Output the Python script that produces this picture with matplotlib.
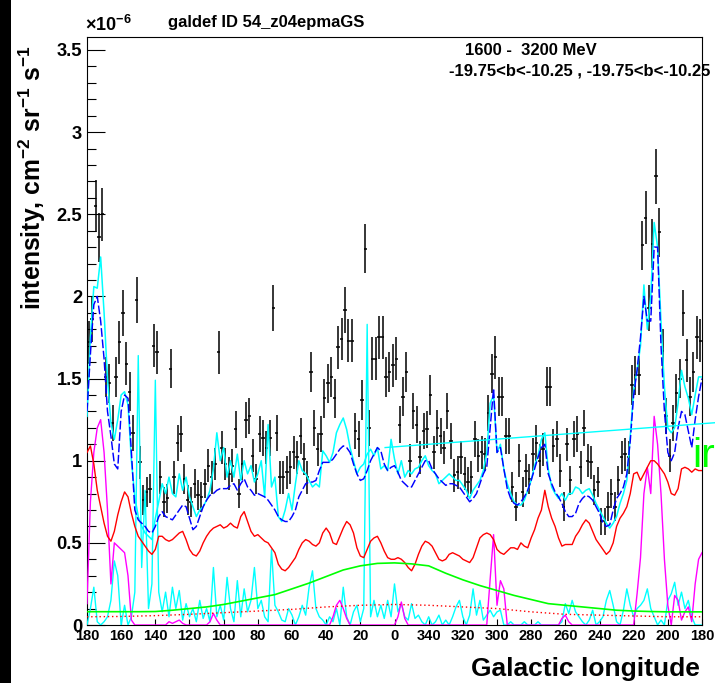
import numpy as np
import matplotlib
matplotlib.use('Agg')
import matplotlib.pyplot as plt
from matplotlib.patches import Rectangle
from matplotlib.ticker import MultipleLocator, FixedLocator, FixedFormatter, FuncFormatter

plt.rcParams['font.family'] = ['Liberation Sans', 'DejaVu Sans']
plt.rcParams['font.weight'] = 'bold'
plt.rcParams['mathtext.fontset'] = 'custom'
plt.rcParams['mathtext.rm'] = 'Liberation Sans:bold'
plt.rcParams['mathtext.it'] = 'Liberation Sans:bold'
plt.rcParams['mathtext.bf'] = 'Liberation Sans:bold'
plt.rcParams['mathtext.default'] = 'rm'

# ---------------- data (intensity in units of 1e-6 cm^-2 sr^-1 s^-1) ----------------
# longitude wrapped to [-180,180], plotted from +180 (left) to -180 (right)
bin_half_width = 1.0
data_lon = np.arange(179, -180, -2)
data_val = [
    1.72, 1.86, 2.55, 2.36, 2.50, 1.51, 1.47, 1.23, 1.51, 1.72,
    1.90, 1.59, 1.42, 1.17, 1.98, 0.99, 0.76, 0.81, 0.83, 1.70,
    1.66, 0.90, 0.75, 0.77, 1.56, 0.90, 1.11, 1.16, 0.89, 0.76,
    0.75, 0.86, 0.79, 0.78, 0.86, 0.97, 0.90, 0.98, 1.66, 1.08,
    0.98, 0.92, 0.97, 1.19, 0.80, 0.98, 1.25, 1.27, 1.03, 0.89,
    1.16, 1.14, 1.08, 1.14, 1.93, 1.17, 0.90, 0.90, 0.93, 0.96,
    1.05, 1.02, 1.15, 1.01, 0.90, 1.54, 1.20, 1.07, 1.16, 1.38,
    1.47, 1.51, 1.38, 1.69, 1.74, 1.92, 1.73, 1.73, 1.18, 1.13,
    1.37, 2.29, 1.20, 1.62, 1.62, 1.75, 1.75, 1.51, 1.54, 1.58,
    1.62, 1.22, 1.39, 1.54, 1.00, 1.30, 1.22, 1.02, 1.18, 1.19,
    1.40, 1.05, 1.20, 1.15, 1.08, 1.30, 1.12, 0.91, 0.93, 1.02,
    0.92, 0.87, 0.90, 1.13, 1.03, 1.05, 1.04, 1.29, 1.53, 1.63,
    1.39, 1.39, 1.15, 1.15, 0.84, 0.72, 1.00, 0.81, 0.94, 0.89,
    1.04, 1.11, 1.00, 1.07, 1.45, 1.45, 1.09, 1.13, 0.94, 0.72,
    1.10, 0.88, 1.13, 1.16, 0.96, 1.20, 1.00, 0.99, 0.82, 0.87,
    0.63, 0.63, 0.72, 0.80, 0.72, 0.88, 1.02, 1.04, 1.02, 1.46,
    1.52, 1.52, 2.31, 2.48, 1.93, 2.32, 2.73, 2.39, 1.67, 1.27,
    1.03, 1.23, 1.41, 1.50, 1.90, 1.61, 1.39, 1.54, 1.75, 1.73,
]
data_err = [
    0.13, 0.14, 0.16, 0.15, 0.16, 0.12, 0.12, 0.11, 0.12, 0.13,
    0.14, 0.13, 0.12, 0.11, 0.14, 0.10, 0.09, 0.09, 0.09, 0.13,
    0.13, 0.10, 0.09, 0.09, 0.12, 0.10, 0.11, 0.11, 0.09, 0.09,
    0.09, 0.09, 0.09, 0.09, 0.09, 0.10, 0.10, 0.10, 0.13, 0.10,
    0.10, 0.10, 0.10, 0.11, 0.09, 0.10, 0.11, 0.11, 0.10, 0.09,
    0.11, 0.11, 0.10, 0.11, 0.14, 0.11, 0.10, 0.10, 0.10, 0.10,
    0.10, 0.10, 0.11, 0.10, 0.10, 0.12, 0.11, 0.10, 0.11, 0.12,
    0.12, 0.12, 0.12, 0.13, 0.13, 0.14, 0.13, 0.13, 0.11, 0.11,
    0.12, 0.15, 0.11, 0.13, 0.13, 0.13, 0.13, 0.12, 0.12, 0.13,
    0.13, 0.11, 0.12, 0.12, 0.10, 0.11, 0.11, 0.10, 0.11, 0.11,
    0.12, 0.10, 0.11, 0.11, 0.10, 0.11, 0.11, 0.10, 0.10, 0.10,
    0.10, 0.09, 0.10, 0.11, 0.10, 0.10, 0.10, 0.11, 0.12, 0.13,
    0.12, 0.12, 0.11, 0.11, 0.09, 0.09, 0.10, 0.09, 0.10, 0.09,
    0.10, 0.11, 0.10, 0.10, 0.12, 0.12, 0.10, 0.11, 0.10, 0.09,
    0.10, 0.09, 0.11, 0.11, 0.10, 0.11, 0.10, 0.10, 0.09, 0.09,
    0.08, 0.08, 0.09, 0.09, 0.09, 0.09, 0.10, 0.10, 0.10, 0.12,
    0.12, 0.12, 0.15, 0.16, 0.14, 0.15, 0.17, 0.15, 0.13, 0.11,
    0.10, 0.11, 0.12, 0.12, 0.14, 0.13, 0.12, 0.12, 0.13, 0.13,
]

# model curves on a 2-degree longitude grid (180 -> -180)
grid_lon = np.arange(180, -181, -2)
total_blue = [
    1.30, 1.65, 1.95, 2.00, 1.85, 1.62, 1.30, 1.15, 0.98, 0.95,
    1.30, 1.40, 1.38, 1.05, 0.70, 0.64, 0.62, 0.60, 0.57, 0.56,
    0.60, 0.66, 0.69, 0.66, 0.65, 0.64, 0.67, 0.70, 0.73, 0.72,
    0.65, 0.58, 0.60, 0.66, 0.72, 0.76, 0.79, 0.80, 0.82, 0.83,
    0.83, 0.83, 0.85, 0.86, 0.82, 0.86, 0.89, 0.84, 0.82, 0.79,
    0.80, 0.79, 0.78, 0.76, 0.73, 0.70, 0.66, 0.64, 0.63, 0.63,
    0.66, 0.70, 0.78, 0.82, 0.86, 0.87, 0.87, 0.88, 0.94, 0.99,
    0.99, 0.99, 1.01, 1.04, 1.07, 1.09, 1.08, 1.05, 0.98, 0.92,
    0.88, 0.89, 0.94, 1.00, 1.04, 1.08, 1.06, 0.98, 0.94, 0.96,
    0.97, 0.93, 0.88, 0.86, 0.84, 0.84, 0.88, 0.92, 0.96, 1.00,
    1.00, 0.95, 0.92, 0.89, 0.87, 0.85, 0.86, 0.86, 0.85, 0.84,
    0.81, 0.78, 0.75, 0.77, 0.80, 0.86, 0.92, 0.96, 1.20, 1.44,
    1.05, 1.08, 0.95, 0.83, 0.77, 0.74, 0.73, 0.75, 0.78, 0.82,
    0.88, 0.95, 1.02, 1.08, 1.10, 0.92, 0.86, 0.81, 0.78, 0.74,
    0.69, 0.66, 0.66, 0.68, 0.74, 0.77, 0.79, 0.78, 0.76, 0.72,
    0.68, 0.62, 0.60, 0.61, 0.70, 0.77, 0.80, 0.84, 0.92, 1.12,
    1.40, 1.55, 1.75, 2.00, 1.85, 1.85, 2.30, 2.30, 1.70, 1.30,
    1.05, 1.00, 1.05, 1.20, 1.30, 1.28, 1.18, 1.08, 1.25, 1.39,
    1.50,
]
total_cyan = [
    1.27, 1.75, 2.06, 2.05, 2.24, 1.90, 1.50, 1.23, 1.13, 1.25,
    1.40, 1.42, 1.34, 1.00, 0.78, 0.66, 0.60, 0.56, 0.54, 0.52,
    0.65, 0.75, 0.86, 0.80, 0.90, 0.80, 0.78, 0.92, 0.82, 0.90,
    0.78, 0.72, 0.66, 0.70, 0.72, 0.76, 0.82, 0.95, 1.17, 1.00,
    1.08, 0.90, 1.00, 0.90, 1.04, 0.88, 1.00, 0.92, 0.97, 0.87,
    0.92, 1.00, 0.78, 1.22, 0.84, 0.90, 0.66, 0.63, 0.70, 0.80,
    0.70, 0.86, 1.00, 0.94, 0.92, 0.88, 0.84, 0.86, 0.84, 1.06,
    1.03, 0.99, 1.05, 1.17, 1.22, 1.26, 1.19, 1.08, 1.00, 0.92,
    0.96, 0.98, 1.04, 1.07, 1.03, 1.08, 0.95, 0.97, 0.94, 1.13,
    1.01, 0.92, 1.00, 0.90, 0.94, 0.92, 0.95, 0.96, 1.00, 1.03,
    0.97, 0.94, 0.92, 0.86, 0.88, 0.90, 0.92, 0.90, 0.88, 0.88,
    0.85, 0.82, 0.77, 0.82, 0.85, 0.88, 0.94, 1.05, 1.35, 1.40,
    1.05, 1.10, 0.95, 0.86, 0.80, 0.75, 0.73, 0.73, 0.76, 0.82,
    0.88, 0.97, 1.03, 1.13, 1.17, 0.95, 0.84, 0.80, 0.77, 0.80,
    0.76, 0.80, 0.80, 0.84, 0.83, 0.80, 0.82, 0.83, 0.79, 0.74,
    0.70, 0.66, 0.62, 0.59, 0.62, 0.66, 0.74, 0.80, 0.88, 1.15,
    1.43, 1.55, 1.70, 2.07, 1.80, 2.00, 2.45, 2.30, 1.85, 1.45,
    1.20, 1.17, 1.20, 1.35, 1.55, 1.45, 1.38, 1.28, 1.40, 1.51,
    1.51,
]
red_line = [
    1.05, 1.09, 0.98, 0.82, 0.72, 0.62, 0.54, 0.51, 0.57, 0.67,
    0.75, 0.81, 0.78, 0.68, 0.60, 0.54, 0.51, 0.48, 0.45, 0.43,
    0.46, 0.54, 0.54, 0.52, 0.51, 0.52, 0.54, 0.56, 0.57, 0.52,
    0.46, 0.43, 0.42, 0.45, 0.50, 0.54, 0.57, 0.59, 0.60, 0.61,
    0.59, 0.60, 0.62, 0.60, 0.59, 0.66, 0.69, 0.63, 0.57, 0.54,
    0.55, 0.53, 0.51, 0.50, 0.47, 0.44, 0.37, 0.34, 0.33, 0.35,
    0.38, 0.41, 0.46, 0.50, 0.52, 0.51, 0.49, 0.48, 0.50, 0.56,
    0.59, 0.56, 0.50, 0.49, 0.54, 0.59, 0.63, 0.61, 0.56, 0.47,
    0.42, 0.41, 0.46, 0.51, 0.53, 0.54, 0.50, 0.45, 0.41, 0.40,
    0.40, 0.41, 0.40, 0.38, 0.35, 0.33, 0.37, 0.43, 0.48, 0.51,
    0.50, 0.48, 0.44, 0.40, 0.39, 0.40, 0.43, 0.44, 0.43, 0.42,
    0.40, 0.39, 0.38, 0.41, 0.47, 0.53, 0.55, 0.56, 0.55, 0.52,
    0.46, 0.44, 0.43, 0.45, 0.47, 0.47, 0.46, 0.50, 0.48, 0.47,
    0.53, 0.58, 0.65, 0.70, 0.82, 0.72, 0.65, 0.60, 0.53, 0.48,
    0.49, 0.49, 0.49, 0.54, 0.57, 0.61, 0.64, 0.62, 0.57, 0.52,
    0.49, 0.46, 0.43, 0.45, 0.50, 0.60, 0.65, 0.68, 0.72, 0.80,
    0.92, 0.93, 0.88, 0.92, 0.96, 1.00, 1.00, 0.98, 0.95, 0.92,
    0.87, 0.80, 0.79, 0.83, 0.95, 0.96, 0.95, 0.93, 0.95, 0.94,
    0.94,
]
magenta_line = [
    0.13, 0.75, 1.05, 1.20, 1.25, 1.05, 0.70, 0.25, 0.50, 0.48,
    0.46, 0.44, 0.30, 0.03, 0.00, 0.00, 0.00, 0.00, 0.00, 0.00,
    0.00, 0.00, 0.00, 0.00, 0.02, 0.01, 0.02, 0.03, 0.01, 0.00,
    0.00, 0.00, 0.00, 0.00, 0.00, 0.00, 0.02, 0.07, 0.03, 0.00,
    0.00, 0.00, 0.00, 0.00, 0.00, 0.00, 0.00, 0.00, 0.00, 0.00,
    0.00, 0.00, 0.00, 0.00, 0.00, 0.00, 0.00, 0.00, 0.00, 0.00,
    0.00, 0.00, 0.00, 0.00, 0.00, 0.00, 0.00, 0.00, 0.00, 0.00,
    0.00, 0.00, 0.05, 0.12, 0.15, 0.10, 0.04, 0.00, 0.00, 0.00,
    0.00, 0.00, 0.00, 0.00, 0.00, 0.00, 0.00, 0.00, 0.00, 0.00,
    0.00, 0.05, 0.14, 0.04, 0.00, 0.00, 0.00, 0.00, 0.00, 0.00,
    0.00, 0.00, 0.00, 0.00, 0.00, 0.00, 0.00, 0.00, 0.00, 0.00,
    0.00, 0.00, 0.00, 0.00, 0.00, 0.00, 0.00, 0.00, 0.28, 0.55,
    0.12, 0.27, 0.22, 0.00, 0.00, 0.00, 0.00, 0.00, 0.00, 0.00,
    0.00, 0.00, 0.00, 0.00, 0.00, 0.00, 0.00, 0.00, 0.00, 0.04,
    0.06, 0.02, 0.00, 0.00, 0.00, 0.00, 0.00, 0.00, 0.00, 0.00,
    0.00, 0.00, 0.00, 0.00, 0.00, 0.00, 0.00, 0.00, 0.00, 0.00,
    0.00, 0.19, 0.41, 0.80, 0.96, 0.80, 1.27, 1.10, 0.80, 0.40,
    0.12, 0.00, 0.18, 0.15, 0.03, 0.08, 0.11, 0.02, 0.25, 0.40,
    0.44,
]
cyan_low = [
    0.00, 0.10, 0.23, 0.02, 0.00, 0.02, 0.05, 0.15, 0.39, 0.30,
    0.00, 0.12, 0.00, 0.05, 0.20, 1.64, 0.35, 0.82, 0.10, 0.25,
    1.49, 0.20, 0.08, 0.20, 0.05, 0.23, 0.10, 0.21, 0.03, 0.13,
    0.05, 0.10, 0.02, 0.15, 0.04, 0.10, 0.02, 0.35, 0.05, 0.12,
    0.03, 0.29, 0.10, 0.02, 0.27, 0.05, 0.22, 0.08, 0.15, 0.35,
    0.10, 0.15, 0.05, 0.02, 0.46, 0.12, 0.08, 0.03, 0.02, 0.10,
    0.06, 0.00, 0.05, 0.12, 0.06, 0.23, 0.33, 0.10, 0.05, 0.03,
    0.00, 0.05, 0.02, 0.10, 0.00, 0.23, 0.05, 0.00, 0.08, 0.12,
    0.02, 0.10, 1.83, 0.05, 0.15, 0.05, 0.12, 0.04, 0.15, 0.05,
    0.25, 0.08, 0.13, 0.05, 0.03, 0.13, 0.04, 0.06, 0.02, 0.00,
    0.05, 0.00, 0.02, 0.06, 0.00, 0.03, 0.00, 0.05, 0.11, 0.15,
    0.05, 0.00, 0.06, 0.22, 0.06, 0.15, 0.03, 0.06, 0.09, 0.05,
    0.08, 0.09, 0.00, 0.00, 0.02, 0.00, 0.00, 0.00, 0.02, 0.00,
    0.00, 0.00, 0.02, 0.00, 0.00, 0.00, 0.00, 0.00, 0.00, 0.02,
    0.13, 0.07, 0.15, 0.08, 0.05, 0.02, 0.00, 0.03, 0.09, 0.00,
    0.02, 0.05, 0.15, 0.21, 0.12, 0.02, 0.00, 0.09, 0.22, 0.12,
    0.05, 0.10, 0.12, 0.15, 0.22, 0.10, 0.05, 0.00, 0.03, 0.00,
    0.15, 0.19, 0.26, 0.12, 0.20, 0.10, 0.15, 0.05, 0.00, 0.00,
    0.00,
]
green_lon = np.arange(180, -181, -10)
green_line = [
    0.081, 0.081, 0.081, 0.081, 0.082, 0.090, 0.100, 0.110, 0.125, 0.145,
    0.165, 0.185, 0.220, 0.255, 0.295, 0.335, 0.360, 0.375, 0.378, 0.372,
    0.360, 0.315, 0.275, 0.240, 0.210, 0.180, 0.155, 0.130, 0.120, 0.110,
    0.100, 0.090, 0.085, 0.082, 0.080, 0.080, 0.080,
]
dotted_lon = np.arange(180, -181, -20)
dotted_line = [0.050, 0.052, 0.057, 0.065, 0.075, 0.085, 0.095, 0.110, 0.120, 0.125,
               0.120, 0.110, 0.100, 0.080, 0.065, 0.060, 0.055, 0.050, 0.050]
fit_lon = [5.5, -195.0]
fit_val = [1.08, 1.237]

xtick_pos = list(range(180, -181, -20))
xtick_lab = [str(int(t % 360)) if t not in (180, -180) else '180' for t in xtick_pos]

# ---------------- figure ----------------
W, H = 715, 683
fig = plt.figure(figsize=(W / 100, H / 100), dpi=100)
fig.patches.append(Rectangle((0, 0), 11 / W, 1, transform=fig.transFigure,
                             facecolor='black', edgecolor='none', zorder=0))
ax = fig.add_axes([87 / W, 58 / H, 615 / W, 588 / H])

ax.errorbar(data_lon, data_val, xerr=bin_half_width, yerr=data_err, fmt='none',
            ecolor='black', elinewidth=1.1, capsize=0, zorder=2)

ax.plot(grid_lon, cyan_low, color='#00ffff', lw=1.0, zorder=3)
ax.plot(grid_lon, magenta_line, color='#ff00ff', lw=1.0, zorder=3)
ax.plot(grid_lon, red_line, color='#ff0000', lw=1.0, zorder=3)
ax.plot(green_lon, green_line, color='#00ff00', lw=1.2, zorder=3)
ax.plot(dotted_lon, dotted_line, color='#ff0000', lw=1.0, ls=(0, (1, 2)), zorder=3)
ax.plot(grid_lon, total_cyan, color='#00ffff', lw=1.1, zorder=4)
ax.plot(grid_lon, total_blue, color='#0000ff', lw=1.05, ls=(0, (6, 1.8)), zorder=5)
ax.plot(fit_lon, fit_val, color='#00ffff', lw=1.0, zorder=5, clip_on=False)

ax.set_xlim(180, -180)
ax.set_ylim(0, 3.579)

ax.xaxis.set_major_locator(FixedLocator(xtick_pos))
ax.xaxis.set_major_formatter(FixedFormatter(xtick_lab))
ax.yaxis.set_major_locator(MultipleLocator(0.5))
ax.yaxis.set_minor_locator(MultipleLocator(0.1))
ax.yaxis.set_major_formatter(FuncFormatter(lambda v, p: ('%g' % v)))

ax.tick_params(axis='y', which='major', direction='in', length=13, width=0.8,
               labelsize=13.2, pad=3.5, right=False)
ax.tick_params(axis='y', which='minor', direction='in', length=6.5, width=0.8, right=False)
ax.tick_params(axis='x', which='major', direction='in', length=4.3, width=0.8,
               labelsize=10.5, pad=3, top=False)
for sp in ax.spines.values():
    sp.set_linewidth(0.8)

fig.text(168 / W, 1 - 27 / H, 'galdef ID 54_z04epmaGS', fontsize=12,
         ha='left', va='baseline')
fig.text(85 / W, 1 - 31 / H, r'$\times$10$^{-6}$', fontsize=13,
         ha='left', va='baseline')
fig.text(465 / W, 1 - 55 / H, '1600 -  3200 MeV', fontsize=12,
         ha='left', va='baseline')
fig.text(449 / W, 1 - 75 / H, '-19.75<b<-10.25 , -19.75<b<-10.25', fontsize=12,
         ha='left', va='baseline')
fig.text(700 / W, 1 - 676 / H, 'Galactic longitude', fontsize=19,
         ha='right', va='baseline')
fig.text(32 / W, 1 - 45 / H, r'intensity, cm$^{-2}$ sr$^{-1}$ s$^{-1}$', fontsize=17.8,
         rotation=90, ha='center', va='top')
fig.text(692 / W, 1 - 467 / H, 'ir', fontsize=29.5, fontweight='normal',
         color='#00ff00', ha='left', va='baseline')

fig.savefig('out.png', dpi=100)
